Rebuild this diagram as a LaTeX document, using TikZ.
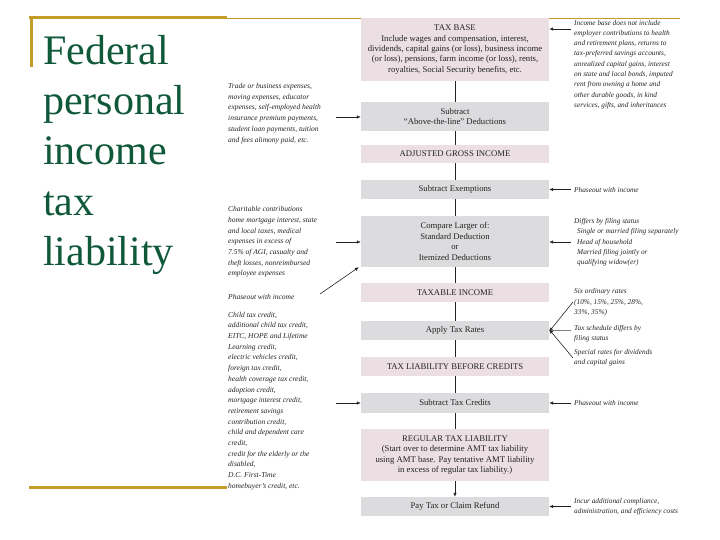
\documentclass[tikz,border=0pt]{standalone}
\usepackage{fontspec}
\setmainfont{Liberation Serif}
\usetikzlibrary{arrows.meta}
\definecolor{gold}{RGB}{196,156,40}
\definecolor{titlegreen}{RGB}{16,88,58}
\definecolor{pinkbox}{RGB}{235,223,227}
\definecolor{graybox}{RGB}{220,220,222}
\definecolor{ink}{RGB}{35,35,35}
\tikzset{
  box/.style={minimum width=188pt, inner sep=0pt, align=center, font=\fontsize{8.7}{10.4}\selectfont, text=ink},
  pbox/.style={box, fill=pinkbox},
  gbox/.style={box, fill=graybox},
  note/.style={align=left, font=\fontsize{7.5}{10.7}\selectfont\itshape, text=ink, inner sep=0pt, anchor=west},
  rnote/.style={align=left, font=\fontsize{7.3}{10.3}\selectfont\itshape, text=ink, inner sep=0pt, anchor=west},
  title/.style={anchor=base west, inner sep=0pt, text=titlegreen, font=\fontsize{42}{50}\selectfont},
  link/.style={draw=ink, line width=0.6pt},
  arr/.style={draw=ink, line width=0.6pt, -{Latex[length=4pt,width=3.5pt]}},
  deco/.style={draw=gold, line width=3pt},
}
\begin{document}
\begin{tikzpicture}[x=1pt,y=-1pt]
\useasboundingbox (0,0) rectangle (720,540);
% decorations
\draw[deco] (29,18) -- (227,18);
\draw[deco] (31,18) -- (31,67);
\draw[deco] (29,487) -- (227,487);
\draw[draw=gold, line width=0.8pt] (227,18) -- (680,18);
% title
\node[title] (t1) at (43,65) {Federal};
\node[title] (t2) at (43,115) {personal};
\node[title] (t3) at (43,165) {income};
\node[title] (t4) at (43,215) {tax};
\node[title] (t5) at (43,265) {liability};
% central boxes
\node[pbox, minimum height=63pt] (base) at (455,49.5) {TAX BASE\\Include wages and compensation, interest,\\dividends, capital gains (or loss), business income\\(or loss), pensions, farm income (or loss), rents,\\royalties, Social Security benefits, etc.};
\node[gbox, minimum height=29pt] (above) at (455,116.5) {Subtract\\“Above-the-line” Deductions};
\node[pbox, minimum height=18pt] (agi) at (455,154) {ADJUSTED GROSS INCOME};
\node[gbox, minimum height=19pt] (exempt) at (455,189.5) {Subtract Exemptions};
\node[gbox, minimum height=51pt] (compare) at (455,241.5) {Compare Larger of:\\Standard Deduction\\or\\Itemized Deductions};
\node[pbox, minimum height=19pt] (taxable) at (455,292.5) {TAXABLE INCOME};
\node[gbox, minimum height=19pt] (rates) at (455,330.5) {Apply Tax Rates};
\node[pbox, minimum height=19pt] (before) at (455,366.5) {TAX LIABILITY BEFORE CREDITS};
\node[gbox, minimum height=20pt] (credits) at (455,403) {Subtract Tax Credits};
\node[pbox, minimum height=52pt] (regular) at (455,455) {REGULAR TAX LIABILITY\\(Start over to determine AMT tax liability\\using AMT base. Pay tentative AMT liability\\in excess of regular tax liability.)};
\node[gbox, minimum height=19pt] (pay) at (455,506.5) {Pay Tax or Claim Refund};
% vertical links
\draw[link] (base) -- (above);
\draw[link] (above) -- (agi);
\draw[link] (agi) -- (exempt);
\draw[link] (exempt) -- (compare);
\draw[link] (compare) -- (taxable);
\draw[link] (taxable) -- (rates);
\draw[link] (rates) -- (before);
\draw[link] (before) -- (credits);
\draw[link] (credits) -- (regular);
\draw[arr] (regular) -- (pay);
% left notes
\node[note] (l1) at (228,113.5) {Trade or business expenses,\\moving expenses, educator\\expenses, self-employed health\\insurance premium payments,\\student loan payments, tuition\\and fees alimony paid, etc.};
\node[note] (l2) at (228,242) {Charitable contributions\\home mortgage interest, state\\and local taxes, medical\\expenses in excess of\\7.5\% of AGI, casualty and\\theft losses, nonreimbursed\\employee expenses};
\node[note] (l3) at (228,297) {Phaseout with income};
\node[note] (l4) at (228,401) {Child tax credit,\\additional child tax credit,\\EITC, HOPE and Lifetime\\Learning credit,\\electric vehicles credit,\\foreign tax credit,\\health coverage tax credit,\\adoption credit,\\mortgage interest credit,\\retirement savings\\contribution credit,\\child and dependent care\\credit,\\credit for the elderly or the\\disabled,\\D.C. First-Time\\homebuyer's credit, etc.};
\coordinate (la1) at (336,117);
\coordinate (la2) at (336,242);
\coordinate (la3) at (320,294);
\coordinate (la4) at (336,403);
\draw[arr] (la1) -- (la1 -| above.west);
\draw[arr] (la2) -- (la2 -| compare.west);
\draw[arr] (la3) -- ([xshift=-2pt]compare.south west);
\draw[arr] (la4) -- (la4 -| credits.west);
% right notes
\node[rnote, font=\fontsize{7.3}{10.3}\selectfont\itshape] (r1) at (574,64.5) {Income base does not include\\employer contributions to health\\and retirement plans, returns to\\tax-preferred savings accounts,\\unrealized capital gains, interest\\on state and local bonds, imputed\\rent from owning a home and\\other durable goods, in kind\\services, gifts, and inheritances};
\node[rnote] (r2) at (574,190) {Phaseout with income};
\node[rnote] (r3) at (574,242.5) {Differs by filing status\\\hspace{3pt}Single or married filing separately\\\hspace{3pt}Head of household\\\hspace{3pt}Married filing jointly or\\\hspace{3pt}qualifying widow(er)};
\node[rnote] (r4) at (574,302.5) {Six ordinary rates\\(10\%, 15\%, 25\%, 28\%,\\33\%, 35\%)};
\node[rnote] (r5) at (574,334) {Tax schedule differs by\\filing status};
\node[rnote] (r6) at (574,358) {Special rates for dividends\\and capital gains};
\node[rnote] (r7) at (574,403) {Phaseout with income};
\node[rnote] (r8) at (574,506.5) {Incur additional compliance,\\administration, and efficiency costs};
\coordinate (ra1) at (571,29);
\coordinate (ra2) at (571,189.5);
\coordinate (ra3) at (571,242);
\coordinate (ra4a) at (573,302);
\coordinate (ra4b) at (571,330.5);
\coordinate (ra4c) at (573,358);
\coordinate (ra5) at (571,403);
\coordinate (ra6) at (571,506.5);
\draw[arr] (ra1) -- (ra1 -| base.east);
\draw[arr] (ra2) -- (exempt.east);
\draw[arr] (ra3) -- (ra3 -| compare.east);
\draw[arr] (ra4a) -- ([yshift=-1pt]rates.east);
\draw[arr, draw=gray] (ra4b) -- (rates.east);
\draw[arr] (ra4c) -- ([yshift=1pt]rates.east);
\draw[arr] (ra5) -- (credits.east);
\draw[arr] (ra6) -- (pay.east);
\end{tikzpicture}
\end{document}
